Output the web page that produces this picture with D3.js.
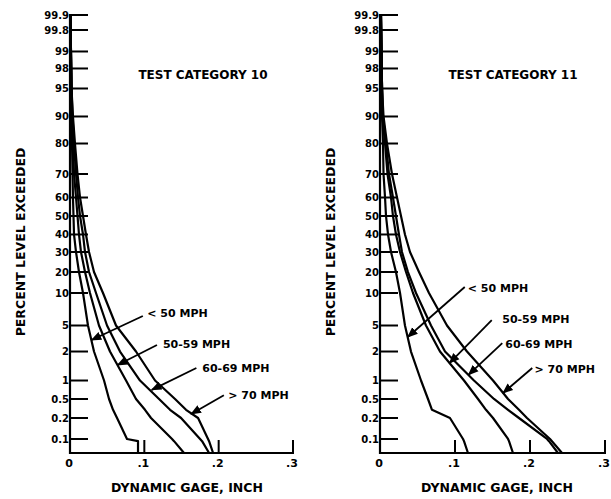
<!DOCTYPE html>
<html><head><meta charset="utf-8">
<script src="https://cdn.jsdelivr.net/npm/d3@7"></script>
<style>body{margin:0;background:#fff}svg{display:block}</style>
</head><body>
<svg id="c" width="611" height="499"></svg>
<script>
// ---- data ----
const panelTitles = ["TEST CATEGORY 10", "TEST CATEGORY 11"];
const seriesNames = ["< 50 MPH", "50-59 MPH", "60-69 MPH", "> 70 MPH"];
// percent level exceeded at which each gage value is read
const levels = [99.9, 99, 95, 90, 80, 70, 60, 50, 40, 30, 20, 10, 5, 2, 1, 0.5, 0.3, 0.2, 0.1, 0.09, 0.05];
// dynamic gage (inch), test category 10
const cat10Under50 = [0.0007,0.0013,0.002,0.0027,0.0027,0.0034,0.004,0.0047,0.0054,0.0081,0.0121,0.0175,0.0242,0.0323,0.0458,0.0525,0.0579,0.0633,0.0767,0.0915,0.0915];
const cat10From50 = [0.0007,0.0013,0.002,0.0027,0.004,0.0054,0.0081,0.0101,0.0121,0.0148,0.0202,0.0269,0.039,0.0538,0.0754,0.0888,0.1009,0.109,0.1373,0.14,0.1534];
const cat10From60 = [0.0007,0.0013,0.002,0.0034,0.0054,0.0081,0.0108,0.0135,0.0175,0.0202,0.0256,0.035,0.0498,0.0673,0.0942,0.1198,0.1346,0.1494,0.175,0.1777,0.1871];
const cat10Over70 = [0.0007,0.0013,0.002,0.004,0.0067,0.0101,0.0135,0.0175,0.0215,0.0256,0.0323,0.0444,0.0619,0.0888,0.1144,0.1413,0.1561,0.1723,0.1857,0.1871,0.1925];
// dynamic gage (inch), test category 11
const cat11Under50 = [0.0013,0.002,0.0027,0.0027,0.004,0.0047,0.0067,0.008,0.0107,0.0147,0.0213,0.0267,0.0333,0.0413,0.0547,0.064,0.0693,0.0933,0.1107,0.112,0.1173];
const cat11From50 = [0.0013,0.002,0.0027,0.0033,0.0067,0.01,0.0147,0.0173,0.0213,0.0267,0.0347,0.044,0.0613,0.08,0.112,0.1307,0.1413,0.1507,0.1707,0.172,0.1773];
const cat11From60 = [0.0013,0.002,0.0027,0.004,0.008,0.012,0.0173,0.0213,0.0253,0.0293,0.0373,0.048,0.068,0.0867,0.1253,0.152,0.1707,0.1853,0.2227,0.2253,0.2373];
const cat11Over70 = [0.0013,0.002,0.0027,0.0047,0.0093,0.016,0.0227,0.028,0.0333,0.04,0.052,0.0653,0.0893,0.116,0.1507,0.1707,0.1853,0.196,0.2267,0.2293,0.2427];
// leader lines: [curve x, curve %, end x, end %, label x, label %]
const cat10Leaders = [[0.029,3.05,0.098,6.2,0.104,6.6],[0.064,1.46,0.117,2.55,0.125,2.64],[0.11,0.71,0.170,1.36,0.178,1.36],[0.163,0.245,0.207,0.58,0.213,0.58]];
const cat11Leaders = [[0.037,3.4,0.113,12.4,0.117,12.0],[0.0927,1.53,0.149,5.66,0.163,5.8],[0.118,1.15,0.163,2.74,0.167,2.64],[0.164,0.63,0.203,1.36,0.206,1.33]];
// axes
const yTicks = [99.9,99.8,99,98,95,90,80,70,60,50,40,30,20,10,5,2,1,0.5,0.2,0.1];
const yTickLabels = ["99.9","99.8","99","98","95","90","80","70","60","50","40","30","20","10","5","2","1","0.5","0.2","0.1"];
const xTicks = [0, 0.1, 0.2, 0.3];
const xTickLabels = ["0", ".1", ".2", ".3"];
const yTitle = "PERCENT LEVEL EXCEEDED";
const xTitle = "DYNAMIC GAGE, INCH";

// ---- probability paper layout (ruling of the printed graph paper) ----
const yKnots = [99.9,99.8,99,98,95,90,80,70,60,50,40,30,20,10,5,2,1,0.5,0.2,0.1,0.05];
const yKnotFrac = [0,0.0342,0.0833,0.1221,0.1678,0.2317,0.2934,0.363,0.4167,0.4589,0.5011,0.5411,0.5868,0.6347,0.7089,0.7683,0.8345,0.8767,0.9201,0.968,1];

function probit(p){
  const a=[-3.969683028665376e+01,2.209460984245205e+02,-2.759285104469687e+02,1.383577518672690e+02,-3.066479806614716e+01,2.506628277459239e+00];
  const b=[-5.447609879822406e+01,1.615858368580409e+02,-1.556989798598866e+02,6.680131188771972e+01,-1.328068155288572e+01];
  const c=[-7.784894002430293e-03,-3.223964580411365e-01,-2.400758277161838e+00,-2.549732539343734e+00,4.374664141464968e+00,2.938163982698783e+00];
  const d=[7.784695709041462e-03,3.224671290700398e-01,2.445134137142996e+00,3.754408661907416e+00];
  const pl=0.02425, ph=1-pl; let q,r;
  if(p<pl){q=Math.sqrt(-2*Math.log(p));return (((((c[0]*q+c[1])*q+c[2])*q+c[3])*q+c[4])*q+c[5])/((((d[0]*q+d[1])*q+d[2])*q+d[3])*q+1);}
  if(p<=ph){q=p-0.5;r=q*q;return (((((a[0]*r+a[1])*r+a[2])*r+a[3])*r+a[4])*r+a[5])*q/(((((b[0]*r+b[1])*r+b[2])*r+b[3])*r+b[4])*r+1);}
  q=Math.sqrt(-2*Math.log(1-p));return -(((((c[0]*q+c[1])*q+c[2])*q+c[3])*q+c[4])*q+c[5])/((((d[0]*q+d[1])*q+d[2])*q+d[3])*q+1);
}
const zOf = pct => probit(pct/100);

const svg = d3.select("#c");
const FONT = "'DejaVu Sans', sans-serif";
const plotTop = 15, plotBottom = 453;

svg.append("defs").append("marker")
  .attr("id","arr").attr("viewBox","0 0 10 10").attr("refX",9).attr("refY",5)
  .attr("markerWidth",6).attr("markerHeight",6).attr("orient","auto-start-reverse")
  .append("path").attr("d","M0,1 L10,5 L0,9 Z").attr("fill","#000");

const panels = [
  {title: panelTitles[0], series:[cat10Under50,cat10From50,cat10From60,cat10Over70], leaders:cat10Leaders, x0:70, x1:293},
  {title: panelTitles[1], series:[cat11Under50,cat11From50,cat11From60,cat11Over70], leaders:cat11Leaders, x0:380, x1:605}
];

panels.forEach(P => {
  const g = svg.append("g");
  const x = d3.scaleLinear().domain([0, 0.3]).range([P.x0, P.x1]);
  const y = d3.scaleLinear().domain(yKnots.map(zOf)).range(yKnotFrac.map(f => plotTop + f*(plotBottom-plotTop)));
  const Y = pct => y(zOf(pct));

  g.append("line").attr("x1",x(0)).attr("x2",x(0)).attr("y1",Y(yTicks[0])-1).attr("y2",plotBottom+1)
    .attr("stroke","#000").attr("stroke-width",2.2);
  g.append("line").attr("x1",x(0)).attr("x2",x(0.3)+1).attr("y1",plotBottom).attr("y2",plotBottom)
    .attr("stroke","#000").attr("stroke-width",2.2);

  g.selectAll(".yt").data(yTicks).enter().append("line")
    .attr("x1",x(0)).attr("x2",x(0)+18).attr("y1",d=>Y(d)).attr("y2",d=>Y(d))
    .attr("stroke","#000").attr("stroke-width",2);
  g.selectAll(".yl").data(yTicks).enter().append("text")
    .attr("x",x(0)-1).attr("y",d=>Y(d)).attr("dy","0.36em").attr("text-anchor","end")
    .attr("font-family",FONT).attr("font-weight","bold").attr("font-size","10px")
    .text((d,i)=>yTickLabels[i]);

  g.selectAll(".xt").data(xTicks.slice(1)).enter().append("line")
    .attr("x1",d=>x(d)).attr("x2",d=>x(d)).attr("y1",plotBottom).attr("y2",plotBottom-13)
    .attr("stroke","#000").attr("stroke-width",2);
  g.selectAll(".xl").data(xTicks).enter().append("text")
    .attr("x",d=>x(d)-1).attr("y",467).attr("text-anchor","middle")
    .attr("font-family",FONT).attr("font-weight","bold").attr("font-size","11px")
    .text((d,i)=>xTickLabels[i]);

  g.append("text").attr("x",x(0)+133).attr("y",79).attr("text-anchor","middle")
    .attr("font-family",FONT).attr("font-weight","bold").attr("font-size","12px").text(P.title);
  g.append("text").attr("x",x(0)+117).attr("y",492).attr("text-anchor","middle")
    .attr("font-family",FONT).attr("font-weight","bold").attr("font-size","12.5px").text(xTitle);
  g.append("text").attr("transform",`translate(${x(0)-45},242) rotate(-90)`).attr("text-anchor","middle")
    .attr("font-family",FONT).attr("font-weight","bold").attr("font-size","12.5px").text(yTitle);

  const line = d3.line().x(d=>x(d[0])).y(d=>Y(d[1]));
  P.series.forEach(s => {
    g.append("path").datum(s.map((v,i)=>[v, levels[i]]))
      .attr("d", line).attr("fill","none").attr("stroke","#000")
      .attr("stroke-width",2.2).attr("stroke-linejoin","round");
  });

  P.leaders.forEach((L,i) => {
    g.append("line").attr("x1",x(L[0])).attr("y1",Y(L[1])).attr("x2",x(L[2])).attr("y2",Y(L[3]))
      .attr("stroke","#000").attr("stroke-width",1.8).attr("marker-start","url(#arr)");
    g.append("text").attr("x",x(L[4])).attr("y",Y(L[5])).attr("dy","0.36em")
      .attr("font-family",FONT).attr("font-weight","bold").attr("font-size","11px")
      .text(seriesNames[i]);
  });
});
</script>
</body></html>
